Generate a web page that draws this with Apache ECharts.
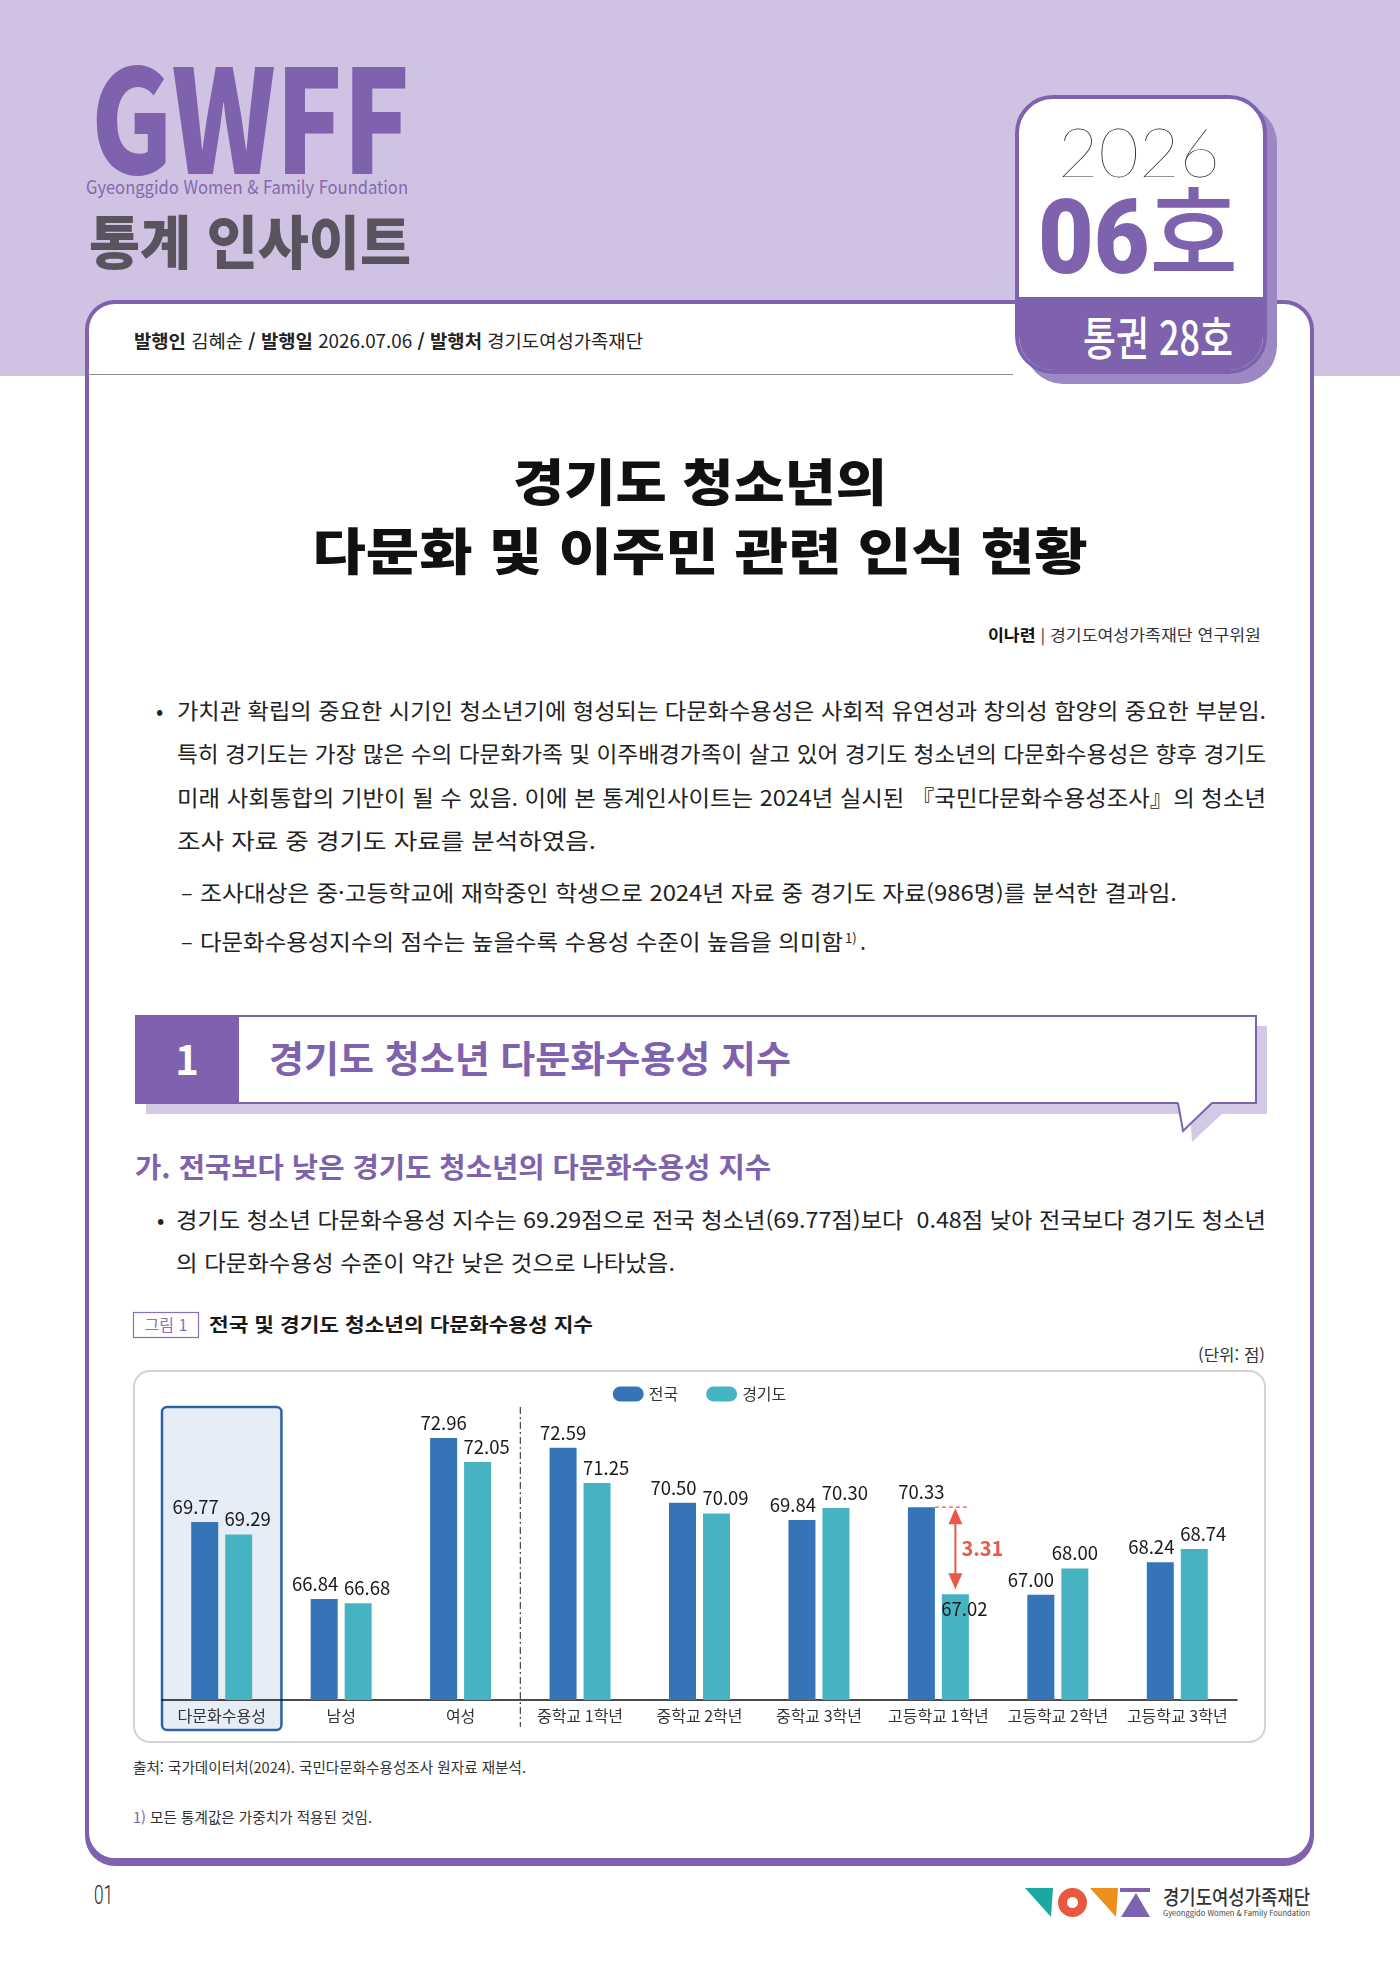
<!DOCTYPE html>
<html lang="ko">
<head>
<meta charset="utf-8">
<script src="https://cdn.jsdelivr.net/npm/echarts@6/dist/echarts.min.js"></script>
<style>
  html, body { margin: 0; padding: 0; background: #ffffff; }
  body { width: 1400px; height: 1979px; position: relative; overflow: hidden; font-family: "Noto Sans CJK KR", sans-serif; }
  #band { position: absolute; left: 0; top: 0; width: 1400px; height: 376px; background: #cfc2e3; z-index: 0; }
  #card { position: absolute; left: 85px; top: 300px; width: 1229px; height: 1562px; box-sizing: border-box;
          border: 4px solid #7e62ad; border-radius: 30px; background: #ffffff; box-shadow: 0 4px 0 #7e62ad; z-index: 1; }
  #badge { position: absolute; left: 1015px; top: 95px; width: 252px; height: 279px; box-sizing: border-box;
           border: 4px solid #7e62ad; border-radius: 38px; background: #ffffff; overflow: hidden;
           box-shadow: 10px 10px 0 #9d88c6; z-index: 2; }
  #badgeBottom { position: absolute; left: 0; right: 0; bottom: 0; height: 73px; background: #7e62ad; }
  #page { position: absolute; left: 0; top: 0; z-index: 3; }
  #page text { white-space: pre; }
  #chart { position: absolute; left: 133px; top: 1370px; width: 1133px; height: 374px; z-index: 4; }
</style>
</head>
<body>
<div id="band"></div>
<div id="card"></div>
<div id="badge"><div id="badgeBottom"></div></div>

<svg id="page" width="1400" height="1979" xmlns="http://www.w3.org/2000/svg" font-family="'Noto Sans CJK KR', sans-serif">
  <!-- header logo -->
  <text x="91" y="174" font-family="'Noto Sans CJK KR'" font-weight="900" font-size="144" textLength="319" lengthAdjust="spacingAndGlyphs" fill="#7e62ad">GWFF</text>
  <text x="86" y="194" font-size="18" textLength="322" lengthAdjust="spacingAndGlyphs" fill="#8469b0">Gyeonggido Women &amp; Family Foundation</text>
  <text x="89" y="264" font-size="58" font-weight="900" textLength="322" lengthAdjust="spacingAndGlyphs" fill="#58535d">통계 인사이트</text>

  <!-- badge texts -->
  <text x="1058" y="177" font-family="Lato, Roboto, 'Noto Sans CJK KR'" font-weight="200" font-size="69" textLength="162" lengthAdjust="spacingAndGlyphs" fill="#2a2a2a">2026</text>
  <text x="1038" y="273" font-family="Roboto, 'Noto Sans CJK KR'" font-size="104" textLength="200" lengthAdjust="spacingAndGlyphs" fill="#7e62ad"><tspan font-weight="900">06</tspan><tspan font-weight="500" font-family="'Noto Sans CJK KR'">호</tspan></text>
  <text x="1083" y="355" font-size="46" font-weight="500" textLength="150" lengthAdjust="spacingAndGlyphs" fill="#ffffff">통권 28호</text>

  <!-- publisher line -->
  <text x="134" y="348" font-size="18" textLength="509" lengthAdjust="spacingAndGlyphs" fill="#222222"><tspan font-weight="bold">발행인</tspan> 김혜순 <tspan font-weight="bold">/ 발행일</tspan> 2026.07.06 <tspan font-weight="bold">/ 발행처</tspan> 경기도여성가족재단</text>
  <line x1="88" y1="374.5" x2="1013" y2="374.5" stroke="#8e8e8e" stroke-width="1"/>

  <!-- title -->
  <text x="700" y="501" text-anchor="middle" font-size="50" font-weight="900" textLength="374" lengthAdjust="spacingAndGlyphs" fill="#111111">경기도 청소년의</text>
  <text x="700" y="570" text-anchor="middle" font-size="50" font-weight="900" textLength="775" lengthAdjust="spacingAndGlyphs" fill="#111111">다문화 및 이주민 관련 인식 현황</text>

  <!-- author -->
  <text x="1261" y="641" text-anchor="end" font-size="15.5" textLength="273" lengthAdjust="spacingAndGlyphs" fill="#333333"><tspan font-weight="bold" fill="#111111">이나련</tspan> | 경기도여성가족재단 연구위원</text>

  <!-- intro paragraph -->
  <g font-size="21.5" fill="#222222">
    <text x="156" y="719">•</text>
    <text x="177" y="719" textLength="1089" lengthAdjust="spacingAndGlyphs">가치관 확립의 중요한 시기인 청소년기에 형성되는 다문화수용성은 사회적 유연성과 창의성 함양의 중요한 부분임.</text>
    <text x="177" y="762" textLength="1089" lengthAdjust="spacingAndGlyphs">특히 경기도는 가장 많은 수의 다문화가족 및 이주배경가족이 살고 있어 경기도 청소년의 다문화수용성은 향후 경기도</text>
    <text x="177" y="806" textLength="1089" lengthAdjust="spacingAndGlyphs">미래 사회통합의 기반이 될 수 있음. 이에 본 통계인사이트는 2024년 실시된 『국민다문화수용성조사』의 청소년</text>
    <text x="177" y="849" textLength="419" lengthAdjust="spacingAndGlyphs">조사 자료 중 경기도 자료를 분석하였음.</text>
    <text x="181" y="901">–</text>
    <text x="200" y="901" textLength="977" lengthAdjust="spacingAndGlyphs">조사대상은 중·고등학교에 재학중인 학생으로 2024년 자료 중 경기도 자료(986명)를 분석한 결과임.</text>
    <text x="181" y="950">–</text>
    <text x="200" y="950" textLength="643" lengthAdjust="spacingAndGlyphs">다문화수용성지수의 점수는 높을수록 수용성 수준이 높음을 의미함</text>
    <text x="845" y="943" font-size="13">1)</text>
    <text x="860" y="950">.</text>
  </g>

  <!-- section header -->
  <rect x="146" y="1026" width="1121" height="88" fill="#d3c8e6"/>
  <polygon points="1190,1112 1224,1112 1192,1142" fill="#d3c8e6"/>
  <rect x="136" y="1016" width="1120" height="87" fill="#ffffff" stroke="#7e62ad" stroke-width="2"/>
  <polygon points="1178,1102 1212,1102 1183,1131" fill="#ffffff"/>
  <polyline points="1178,1103 1183,1131 1212,1103" fill="none" stroke="#7e62ad" stroke-width="2"/>
  <rect x="135" y="1015" width="104" height="89" fill="#7e62ad"/>
  <text x="187" y="1075" text-anchor="middle" font-size="40" font-weight="bold" fill="#ffffff">1</text>
  <text x="269" y="1073" font-size="37" font-weight="bold" textLength="522" lengthAdjust="spacingAndGlyphs" fill="#7e62ad">경기도 청소년 다문화수용성 지수</text>

  <!-- sub heading and bullet -->
  <text x="135" y="1178" font-size="28" font-weight="bold" textLength="636" lengthAdjust="spacingAndGlyphs" fill="#7e62ad">가. 전국보다 낮은 경기도 청소년의 다문화수용성 지수</text>
  <g font-size="21.5" fill="#222222">
    <text x="157" y="1228">•</text>
    <text x="176" y="1228" textLength="1090" lengthAdjust="spacingAndGlyphs">경기도 청소년 다문화수용성 지수는 69.29점으로 전국 청소년(69.77점)보다  0.48점 낮아 전국보다 경기도 청소년</text>
    <text x="176" y="1271" textLength="499" lengthAdjust="spacingAndGlyphs">의 다문화수용성 수준이 약간 낮은 것으로 나타났음.</text>
  </g>

  <!-- figure caption -->
  <rect x="133.5" y="1312.5" width="65" height="25" fill="#ffffff" stroke="#8a70b8" stroke-width="1.2"/>
  <text x="166" y="1331" text-anchor="middle" font-size="16" fill="#8a70b8">그림 1</text>
  <text x="209" y="1332" font-size="19" font-weight="bold" textLength="384" lengthAdjust="spacingAndGlyphs" fill="#1a1a1a">전국 및 경기도 청소년의 다문화수용성 지수</text>
  <text x="1265" y="1361" text-anchor="end" font-size="16" textLength="67" lengthAdjust="spacingAndGlyphs" fill="#333333">(단위: 점)</text>

  <!-- chart frame -->
  <rect x="134" y="1371" width="1131" height="371" rx="16" ry="16" fill="#ffffff" stroke="#d3d3d3" stroke-width="2"/>

  <!-- source and footnote -->
  <text x="133" y="1773" font-size="14.5" textLength="393" lengthAdjust="spacingAndGlyphs" fill="#333333">출처: 국가데이터처(2024). 국민다문화수용성조사 원자료 재분석.</text>
  <text x="133" y="1823" font-size="14.5" textLength="239" lengthAdjust="spacingAndGlyphs" fill="#333333"><tspan fill="#7e62ad">1)</tspan> 모든 통계값은 가중치가 적용된 것임.</text>

  <!-- footer -->
  <text x="94" y="1904" font-family="Roboto, 'Noto Sans'" font-weight="300" font-size="26" textLength="19" lengthAdjust="spacingAndGlyphs" fill="#222222">01</text>
  <polygon points="1025,1888 1053,1888 1051,1917" fill="#1aa9a0"/>
  <circle cx="1072.5" cy="1902.5" r="10" fill="none" stroke="#e8573f" stroke-width="9"/>
  <polygon points="1090,1888 1118,1888 1116,1917" fill="#ec8f1f"/>
  <rect x="1120" y="1888" width="30" height="4" fill="#7e62ad"/>
  <polygon points="1121,1917 1150,1917 1136,1893" fill="#7e62ad"/>
  <text x="1163" y="1905" font-size="20" font-weight="500" textLength="147" lengthAdjust="spacingAndGlyphs" fill="#333333">경기도여성가족재단</text>
  <text x="1163" y="1916" font-size="7.5" textLength="147" lengthAdjust="spacingAndGlyphs" fill="#444444">Gyeonggido Women &amp; Family Foundation</text>
</svg>

<div id="chart"></div>

<script>
// ---- data ----
const categories = ['다문화수용성', '남성', '여성', '중학교 1학년', '중학교 2학년', '중학교 3학년', '고등학교 1학년', '고등학교 2학년', '고등학교 3학년'];
const seriesNames = ['전국', '경기도'];
const nationalValues = [69.77, 66.84, 72.96, 72.59, 70.50, 69.84, 70.33, 67.00, 68.24];
const gyeonggiValues = [69.29, 66.68, 72.05, 71.25, 70.09, 70.30, 67.02, 68.00, 68.74];
const highlightCategory = '다문화수용성';
const separatorAfter = '여성';
const gapCategory = '고등학교 1학년';

// ---- styles ----
const FONT = '"Noto Sans CJK KR", "Noto Sans", sans-serif';
const COLOR_NAT = '#3574b6';
const COLOR_GG = '#46b3c2';
const COLOR_RED = '#ea5849';
const BAR_W = 27;
const BAR_GAP_PX = 7;
const Y_MIN = 63, Y_MAX = 75;

function labelShift(n, g, isNat) {
  const d = n - g;
  if (Math.abs(d) < 0.8) return isNat ? -9 : 9;
  if (d > 0) return isNat ? 0 : 9;
  return isNat ? -10 : 0;
}

const gapIdx = categories.indexOf(gapCategory);

const natData = nationalValues.map((v, i) => ({
  value: v,
  label: { offset: [labelShift(v, gyeonggiValues[i], true), 0] }
}));
const ggData = gyeonggiValues.map((v, i) => {
  if (i === gapIdx) {
    return { value: v, label: { position: 'insideTop', distance: 5, offset: [9, 0] } };
  }
  return { value: v, label: { offset: [labelShift(nationalValues[i], v, false), 0] } };
});

const pillIcon = 'path://M7.5,0 H23.5 A7.5,7.5 0 0 1 23.5,15 H7.5 A7.5,7.5 0 0 1 7.5,0 Z';

const chart = echarts.init(document.getElementById('chart'), null, { renderer: 'canvas' });

const labelCommon = {
  show: true,
  position: 'top',
  distance: 6,
  fontSize: 18.5,
  color: '#1a1a1a',
  fontFamily: FONT,
  formatter: p => Number(p.value).toFixed(2)
};

chart.setOption({
  animation: false,
  backgroundColor: 'transparent',
  textStyle: { fontFamily: FONT },
  legend: {
    top: 11,
    left: 'center',
    itemWidth: 31,
    itemHeight: 15,
    itemGap: 28,
    icon: pillIcon,
    textStyle: { fontSize: 16, color: '#333333', fontFamily: FONT },
    data: seriesNames
  },
  grid: { left: 29, right: 29, top: 14.4, bottom: 44, containLabel: false },
  xAxis: {
    type: 'category',
    data: categories,
    axisLine: { show: true, lineStyle: { color: '#111111', width: 1.5 } },
    axisTick: { show: false },
    axisLabel: { fontSize: 16, color: '#333333', margin: 8, fontFamily: FONT, interval: 0 }
  },
  yAxis: {
    type: 'value',
    min: Y_MIN,
    max: Y_MAX,
    show: false,
    splitLine: { show: false }
  },
  series: [
    {
      name: seriesNames[0],
      type: 'bar',
      barWidth: BAR_W,
      barGap: (BAR_GAP_PX / BAR_W * 100).toFixed(1) + '%',
      itemStyle: { color: COLOR_NAT },
      label: labelCommon,
      data: natData,
      z: 3
    },
    {
      name: seriesNames[1],
      type: 'bar',
      barWidth: BAR_W,
      itemStyle: { color: COLOR_GG },
      label: labelCommon,
      data: ggData,
      z: 3
    }
  ]
});

// ---- overlays computed from the chart's own scales ----
const xPix = i => chart.convertToPixel({ xAxisIndex: 0 }, i);
const yPix = v => chart.convertToPixel({ yAxisIndex: 0 }, v);

const band = xPix(1) - xPix(0);
const axisY = yPix(Y_MIN);
const half = (BAR_W + BAR_GAP_PX) / 2;
const hi = categories.indexOf(highlightCategory);
const sep = categories.indexOf(separatorAfter);

const cHi = xPix(hi);
const sepX = xPix(sep) + band / 2;

const cGap = xPix(gapIdx);
const natTop = yPix(nationalValues[gapIdx]);
const ggTop = yPix(gyeonggiValues[gapIdx]);
const arrowX = cGap + half;
const yA = natTop + 1;
const yB = ggTop - 5;
const diffText = (nationalValues[gapIdx] - gyeonggiValues[gapIdx]).toFixed(2);

chart.setOption({
  graphic: [
    {
      type: 'rect', z: -1, silent: true,
      shape: { x: cHi - band / 2, y: axisY - 293, width: band, height: 323, r: 5 },
      style: { fill: '#e6edf6', stroke: '#2c63a4', lineWidth: 2.5 }
    },
    {
      type: 'line', z: 1, silent: true,
      shape: { x1: sepX, y1: axisY - 293, x2: sepX, y2: axisY + 27 },
      style: { stroke: '#444444', lineWidth: 1.2, lineDash: [7, 3, 2, 3] }
    },
    {
      type: 'line', z: 10, silent: true,
      shape: { x1: cGap - half + BAR_W / 2, y1: natTop, x2: cGap + half + BAR_W / 2, y2: natTop },
      style: { stroke: COLOR_RED, lineWidth: 1.2, lineDash: [4, 3] }
    },
    {
      type: 'line', z: 10, silent: true,
      shape: { x1: arrowX, y1: yA + 10, x2: arrowX, y2: yB - 10 },
      style: { stroke: COLOR_RED, lineWidth: 2 }
    },
    {
      type: 'polygon', z: 10, silent: true,
      shape: { points: [[arrowX, yA], [arrowX - 7, yA + 16], [arrowX + 7, yA + 16]] },
      style: { fill: COLOR_RED }
    },
    {
      type: 'polygon', z: 10, silent: true,
      shape: { points: [[arrowX, yB], [arrowX - 7, yB - 16], [arrowX + 7, yB - 16]] },
      style: { fill: COLOR_RED }
    },
    {
      type: 'text', z: 10, silent: true,
      x: arrowX + 6, y: (yA + yB) / 2,
      style: {
        text: diffText, fill: COLOR_RED,
        font: 'bold 20px ' + FONT,
        align: 'left', verticalAlign: 'middle'
      }
    }
  ]
});
</script>
</body>
</html>
